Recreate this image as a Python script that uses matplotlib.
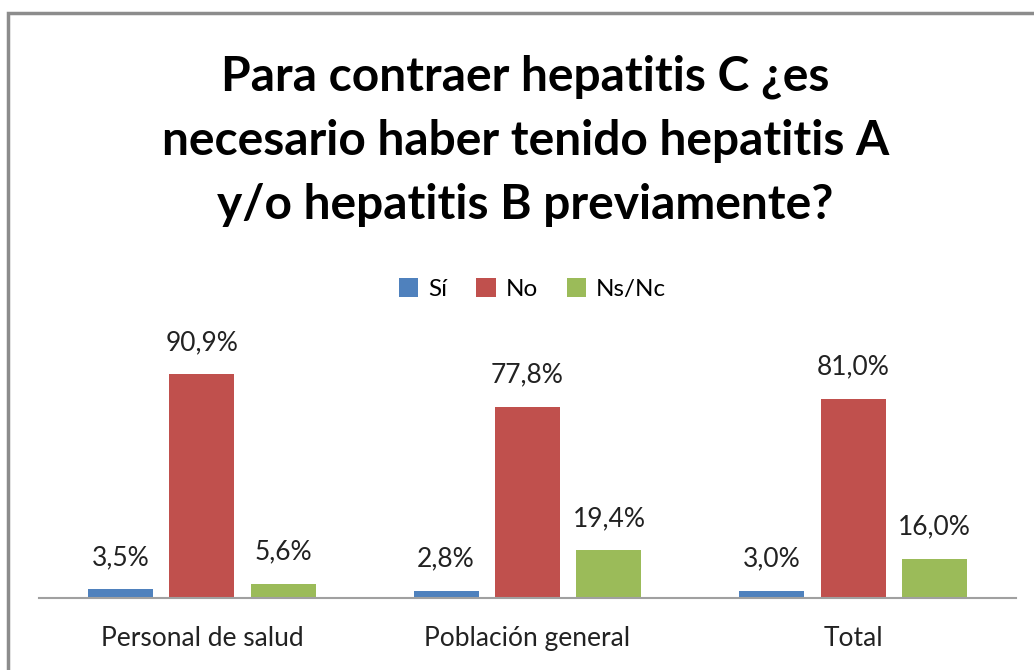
import matplotlib
matplotlib.use("Agg")
import matplotlib.pyplot as plt
from matplotlib.patches import Rectangle
import numpy as np

# Data
groups = ["Personal de salud", "Población general", "Total"]
series = ["Sí", "No", "Ns/Nc"]
si = [3.5, 2.8, 3.0]
no = [90.9, 77.8, 81.0]
nsnc = [5.6, 19.4, 16.0]
colors = ["#4F81BD", "#C0504D", "#9BBB59"]

title = "Para contraer hepatitis C ¿es\nnecesario haber tenido hepatitis A\ny/o hepatitis B previamente?"

plt.rcParams['font.family'] = ['Lato', 'DejaVu Sans']

fig = plt.figure(figsize=(10.34, 6.7), dpi=100)
ax = fig.add_axes([39/1034, 72/670, 977/1034, 246/670])

x = np.arange(len(groups))
w = 0.2
offsets = [-0.25, 0, 0.25]
for vals, off, col, name in zip([si, no, nsnc], offsets, colors, series):
    bars = ax.bar(x + off, vals, w, color=col, label=name)
    for b, v in zip(bars, vals):
        ax.annotate(f"{v:.1f}%".replace(".", ","), (b.get_x() + b.get_width()/2, v),
                    xytext=(0, 23), textcoords="offset points",
                    ha="center", va="center", fontsize=19, color="#222222",
                    annotation_clip=False)

ax.set_xlim(-0.5, 2.5)
ax.set_ylim(0, 100)
ax.set_yticks([])
ax.set_xticks(x)
ax.set_xticklabels(groups, fontsize=19, color="#222222")
ax.tick_params(axis="x", length=0, pad=20)
for s in ["top", "right", "left"]:
    ax.spines[s].set_visible(False)
ax.spines["bottom"].set_color("#A0A0A0")
ax.spines["bottom"].set_linewidth(1.5)

fig.text(0.508, 1 - 141/670, title, ha="center", va="center", fontsize=34.5,
         fontweight="bold", linespacing=1.55)

fig.legend(loc="center", bbox_to_anchor=(0.515, 1 - 289/670), ncol=3, frameon=False,
           fontsize=17.5, handlelength=0.8, handleheight=0.8, handletextpad=0.4,
           columnspacing=1.2)

# outer chart frame
fig.patches.append(Rectangle((8/1034, -0.05), 1.1, 1 - 13/670 + 0.05,
                             transform=fig.transFigure, fill=False,
                             edgecolor="#8C8C8C", linewidth=2.5, clip_on=False))

fig.savefig("out.png", dpi=100)
